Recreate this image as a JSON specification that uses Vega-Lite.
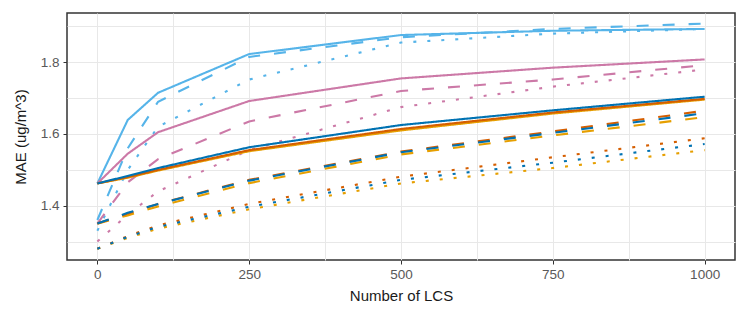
{
  "$schema": "https://vega.github.io/schema/vega-lite/v6.json",
  "width": 668,
  "height": 247,
  "autosize": {"type": "none"},
  "padding": {"left": 67, "top": 13, "right": 5, "bottom": 60},
  "background": "white",
  "config": {
    "font": "Liberation Sans",
    "view": {"stroke": "#333333", "strokeWidth": 1.5},
    "axis": {
      "domain": false,
      "gridColor": "#E8E8E8",
      "gridWidth": 1,
      "tickColor": "#333333",
      "tickSize": 4,
      "tickWidth": 1,
      "labelColor": "#595959",
      "labelFontSize": 13.5,
      "labelPadding": 3,
      "titleColor": "#1A1A1A",
      "titleFontSize": 15,
      "titleFontWeight": "normal"
    }
  },
  "data": {
    "values": [
      {"n": 0, "mae": 1.462, "grp": "G1", "lt": "solid"},
      {"n": 50, "mae": 1.639, "grp": "G1", "lt": "solid"},
      {"n": 100, "mae": 1.715, "grp": "G1", "lt": "solid"},
      {"n": 250, "mae": 1.823, "grp": "G1", "lt": "solid"},
      {"n": 500, "mae": 1.876, "grp": "G1", "lt": "solid"},
      {"n": 750, "mae": 1.888, "grp": "G1", "lt": "solid"},
      {"n": 1000, "mae": 1.893, "grp": "G1", "lt": "solid"},
      {"n": 0, "mae": 1.36, "grp": "G1", "lt": "dashed"},
      {"n": 50, "mae": 1.56, "grp": "G1", "lt": "dashed"},
      {"n": 100, "mae": 1.69, "grp": "G1", "lt": "dashed"},
      {"n": 250, "mae": 1.815, "grp": "G1", "lt": "dashed"},
      {"n": 500, "mae": 1.87, "grp": "G1", "lt": "dashed"},
      {"n": 750, "mae": 1.893, "grp": "G1", "lt": "dashed"},
      {"n": 1000, "mae": 1.908, "grp": "G1", "lt": "dashed"},
      {"n": 0, "mae": 1.33, "grp": "G1", "lt": "dotted"},
      {"n": 50, "mae": 1.5, "grp": "G1", "lt": "dotted"},
      {"n": 100, "mae": 1.62, "grp": "G1", "lt": "dotted"},
      {"n": 250, "mae": 1.752, "grp": "G1", "lt": "dotted"},
      {"n": 500, "mae": 1.855, "grp": "G1", "lt": "dotted"},
      {"n": 750, "mae": 1.88, "grp": "G1", "lt": "dotted"},
      {"n": 1000, "mae": 1.893, "grp": "G1", "lt": "dotted"},
      {"n": 0, "mae": 1.462, "grp": "G2", "lt": "solid"},
      {"n": 50, "mae": 1.545, "grp": "G2", "lt": "solid"},
      {"n": 100, "mae": 1.605, "grp": "G2", "lt": "solid"},
      {"n": 250, "mae": 1.692, "grp": "G2", "lt": "solid"},
      {"n": 500, "mae": 1.755, "grp": "G2", "lt": "solid"},
      {"n": 750, "mae": 1.785, "grp": "G2", "lt": "solid"},
      {"n": 1000, "mae": 1.808, "grp": "G2", "lt": "solid"},
      {"n": 0, "mae": 1.35, "grp": "G2", "lt": "dashed"},
      {"n": 50, "mae": 1.465, "grp": "G2", "lt": "dashed"},
      {"n": 100, "mae": 1.53, "grp": "G2", "lt": "dashed"},
      {"n": 250, "mae": 1.635, "grp": "G2", "lt": "dashed"},
      {"n": 500, "mae": 1.72, "grp": "G2", "lt": "dashed"},
      {"n": 750, "mae": 1.752, "grp": "G2", "lt": "dashed"},
      {"n": 1000, "mae": 1.792, "grp": "G2", "lt": "dashed"},
      {"n": 0, "mae": 1.3, "grp": "G2", "lt": "dotted"},
      {"n": 50, "mae": 1.375, "grp": "G2", "lt": "dotted"},
      {"n": 100, "mae": 1.44, "grp": "G2", "lt": "dotted"},
      {"n": 250, "mae": 1.555, "grp": "G2", "lt": "dotted"},
      {"n": 500, "mae": 1.675, "grp": "G2", "lt": "dotted"},
      {"n": 750, "mae": 1.732, "grp": "G2", "lt": "dotted"},
      {"n": 1000, "mae": 1.78, "grp": "G2", "lt": "dotted"},
      {"n": 0, "mae": 1.462, "grp": "G5", "lt": "solid"},
      {"n": 50, "mae": 1.478, "grp": "G5", "lt": "solid"},
      {"n": 100, "mae": 1.498, "grp": "G5", "lt": "solid"},
      {"n": 250, "mae": 1.552, "grp": "G5", "lt": "solid"},
      {"n": 500, "mae": 1.61, "grp": "G5", "lt": "solid"},
      {"n": 750, "mae": 1.657, "grp": "G5", "lt": "solid"},
      {"n": 1000, "mae": 1.696, "grp": "G5", "lt": "solid"},
      {"n": 0, "mae": 1.35, "grp": "G5", "lt": "dashed"},
      {"n": 50, "mae": 1.373, "grp": "G5", "lt": "dashed"},
      {"n": 100, "mae": 1.398, "grp": "G5", "lt": "dashed"},
      {"n": 250, "mae": 1.463, "grp": "G5", "lt": "dashed"},
      {"n": 500, "mae": 1.543, "grp": "G5", "lt": "dashed"},
      {"n": 750, "mae": 1.596, "grp": "G5", "lt": "dashed"},
      {"n": 1000, "mae": 1.647, "grp": "G5", "lt": "dashed"},
      {"n": 0, "mae": 1.28, "grp": "G5", "lt": "dotted"},
      {"n": 50, "mae": 1.31, "grp": "G5", "lt": "dotted"},
      {"n": 100, "mae": 1.336, "grp": "G5", "lt": "dotted"},
      {"n": 250, "mae": 1.39, "grp": "G5", "lt": "dotted"},
      {"n": 500, "mae": 1.462, "grp": "G5", "lt": "dotted"},
      {"n": 750, "mae": 1.505, "grp": "G5", "lt": "dotted"},
      {"n": 1000, "mae": 1.555, "grp": "G5", "lt": "dotted"},
      {"n": 0, "mae": 1.462, "grp": "G4", "lt": "solid"},
      {"n": 50, "mae": 1.48, "grp": "G4", "lt": "solid"},
      {"n": 100, "mae": 1.5, "grp": "G4", "lt": "solid"},
      {"n": 250, "mae": 1.555, "grp": "G4", "lt": "solid"},
      {"n": 500, "mae": 1.614, "grp": "G4", "lt": "solid"},
      {"n": 750, "mae": 1.66, "grp": "G4", "lt": "solid"},
      {"n": 1000, "mae": 1.698, "grp": "G4", "lt": "solid"},
      {"n": 0, "mae": 1.35, "grp": "G4", "lt": "dashed"},
      {"n": 50, "mae": 1.378, "grp": "G4", "lt": "dashed"},
      {"n": 100, "mae": 1.405, "grp": "G4", "lt": "dashed"},
      {"n": 250, "mae": 1.472, "grp": "G4", "lt": "dashed"},
      {"n": 500, "mae": 1.551, "grp": "G4", "lt": "dashed"},
      {"n": 750, "mae": 1.607, "grp": "G4", "lt": "dashed"},
      {"n": 1000, "mae": 1.665, "grp": "G4", "lt": "dashed"},
      {"n": 0, "mae": 1.28, "grp": "G4", "lt": "dotted"},
      {"n": 50, "mae": 1.315, "grp": "G4", "lt": "dotted"},
      {"n": 100, "mae": 1.345, "grp": "G4", "lt": "dotted"},
      {"n": 250, "mae": 1.405, "grp": "G4", "lt": "dotted"},
      {"n": 500, "mae": 1.481, "grp": "G4", "lt": "dotted"},
      {"n": 750, "mae": 1.535, "grp": "G4", "lt": "dotted"},
      {"n": 1000, "mae": 1.588, "grp": "G4", "lt": "dotted"},
      {"n": 0, "mae": 1.462, "grp": "G3", "lt": "solid"},
      {"n": 50, "mae": 1.483, "grp": "G3", "lt": "solid"},
      {"n": 100, "mae": 1.505, "grp": "G3", "lt": "solid"},
      {"n": 250, "mae": 1.563, "grp": "G3", "lt": "solid"},
      {"n": 500, "mae": 1.625, "grp": "G3", "lt": "solid"},
      {"n": 750, "mae": 1.666, "grp": "G3", "lt": "solid"},
      {"n": 1000, "mae": 1.704, "grp": "G3", "lt": "solid"},
      {"n": 0, "mae": 1.35, "grp": "G3", "lt": "dashed"},
      {"n": 50, "mae": 1.38, "grp": "G3", "lt": "dashed"},
      {"n": 100, "mae": 1.405, "grp": "G3", "lt": "dashed"},
      {"n": 250, "mae": 1.47, "grp": "G3", "lt": "dashed"},
      {"n": 500, "mae": 1.549, "grp": "G3", "lt": "dashed"},
      {"n": 750, "mae": 1.603, "grp": "G3", "lt": "dashed"},
      {"n": 1000, "mae": 1.658, "grp": "G3", "lt": "dashed"},
      {"n": 0, "mae": 1.28, "grp": "G3", "lt": "dotted"},
      {"n": 50, "mae": 1.313, "grp": "G3", "lt": "dotted"},
      {"n": 100, "mae": 1.341, "grp": "G3", "lt": "dotted"},
      {"n": 250, "mae": 1.397, "grp": "G3", "lt": "dotted"},
      {"n": 500, "mae": 1.472, "grp": "G3", "lt": "dotted"},
      {"n": 750, "mae": 1.52, "grp": "G3", "lt": "dotted"},
      {"n": 1000, "mae": 1.572, "grp": "G3", "lt": "dotted"}
    ]
  },
  "mark": {"type": "line", "strokeWidth": 2.1, "clip": true},
  "encoding": {
    "x": {
      "field": "n",
      "type": "quantitative",
      "title": "Number of LCS",
      "scale": {"domain": [-50, 1050], "nice": false, "zero": false},
      "axis": {
        "values": [0, 125, 250, 375, 500, 625, 750, 875, 1000],
        "format": "d",
        "labelExpr": "datum.value % 250 == 0 ? datum.label : ''",
        "tickOpacity": {"condition": {"test": "datum.value % 250 != 0", "value": 0}, "value": 1},
        "titlePadding": 8
      }
    },
    "y": {
      "field": "mae",
      "type": "quantitative",
      "title": "MAE (ug/m^3)",
      "scale": {"domain": [1.2485, 1.9375], "nice": false, "zero": false},
      "axis": {
        "values": [1.3, 1.4, 1.5, 1.6, 1.7, 1.8, 1.9],
        "format": ".1f",
        "labelExpr": "round(datum.value * 10) % 2 == 0 ? datum.label : ''",
        "tickOpacity": {"condition": {"test": "round(datum.value * 10) % 2 != 0", "value": 0}, "value": 1},
        "labelPadding": 4,
        "titlePadding": 12
      }
    },
    "color": {
      "field": "grp",
      "type": "nominal",
      "legend": null,
      "scale": {
        "domain": ["G1", "G2", "G3", "G4", "G5"],
        "range": ["#56B4E9", "#CC79A7", "#0072B2", "#D55E00", "#E69F00"]
      }
    },
    "strokeDash": {
      "field": "lt",
      "type": "nominal",
      "legend": null,
      "scale": {
        "domain": ["solid", "dashed", "dotted"],
        "range": [[1, 0], [12, 14], [3, 11]]
      }
    }
  }
}
